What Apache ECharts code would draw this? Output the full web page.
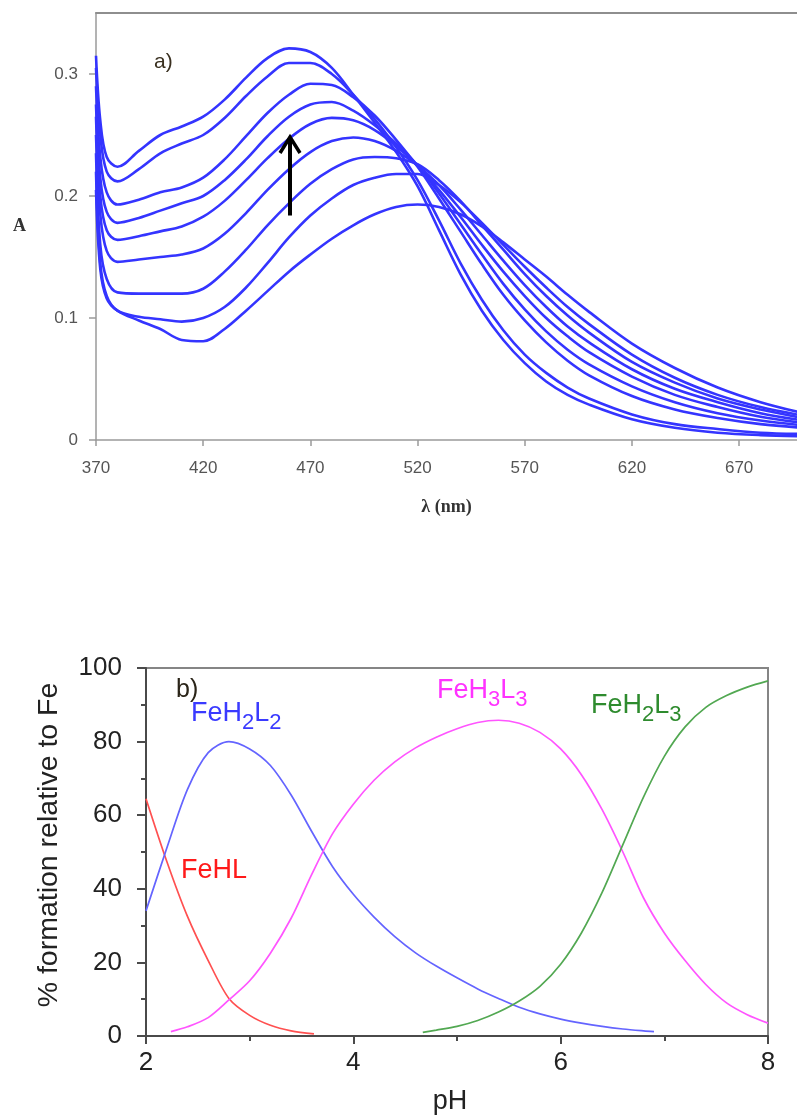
<!DOCTYPE html>
<html>
<head>
<meta charset="utf-8">
<script src="https://cdn.jsdelivr.net/npm/echarts@6/dist/echarts.min.js"></script>
<style>
html,body{margin:0;padding:0;background:#fff;}
#chart{width:797px;height:1117px;}
</style>
</head>
<body>
<div id="chart"></div>
<script>
// ---------- Panel a) : absorption spectra ----------
const wavelengths = [370, 372, 375, 380, 390, 400, 410, 420, 430, 440, 450, 460, 470, 480, 490, 500, 510, 520, 530, 540, 550, 560, 570, 580, 590, 600, 620, 640, 660, 680, 700];
const spectrum1 = [0.315, 0.262, 0.232, 0.224, 0.237, 0.250, 0.257, 0.265, 0.279, 0.297, 0.313, 0.321, 0.318, 0.305, 0.283, 0.260, 0.236, 0.208, 0.172, 0.136, 0.106, 0.082, 0.063, 0.048, 0.037, 0.029, 0.017, 0.010, 0.006, 0.004, 0.003];
const spectrum2 = [0.305, 0.250, 0.220, 0.212, 0.222, 0.235, 0.243, 0.250, 0.264, 0.282, 0.298, 0.309, 0.309, 0.300, 0.283, 0.263, 0.240, 0.213, 0.180, 0.145, 0.115, 0.090, 0.070, 0.055, 0.043, 0.034, 0.021, 0.013, 0.009, 0.006, 0.005];
const spectrum3 = [0.290, 0.232, 0.203, 0.193, 0.197, 0.203, 0.207, 0.215, 0.230, 0.249, 0.268, 0.283, 0.292, 0.291, 0.281, 0.266, 0.246, 0.224, 0.198, 0.171, 0.144, 0.119, 0.098, 0.080, 0.065, 0.053, 0.036, 0.025, 0.018, 0.013, 0.010];
const spectrum4 = [0.275, 0.215, 0.187, 0.178, 0.182, 0.188, 0.194, 0.200, 0.213, 0.230, 0.249, 0.265, 0.275, 0.277, 0.270, 0.258, 0.243, 0.225, 0.202, 0.177, 0.152, 0.128, 0.107, 0.089, 0.074, 0.062, 0.044, 0.031, 0.022, 0.016, 0.012];
const spectrum5 = [0.265, 0.200, 0.172, 0.164, 0.167, 0.171, 0.175, 0.183, 0.196, 0.213, 0.231, 0.247, 0.259, 0.264, 0.262, 0.254, 0.241, 0.225, 0.205, 0.183, 0.160, 0.138, 0.118, 0.100, 0.085, 0.072, 0.052, 0.037, 0.027, 0.019, 0.014];
const spectrum6 = [0.250, 0.185, 0.155, 0.146, 0.148, 0.150, 0.152, 0.157, 0.169, 0.186, 0.205, 0.222, 0.236, 0.245, 0.248, 0.245, 0.237, 0.225, 0.209, 0.189, 0.168, 0.147, 0.127, 0.109, 0.093, 0.080, 0.058, 0.042, 0.031, 0.022, 0.016];
const spectrum7 = [0.235, 0.160, 0.132, 0.121, 0.120, 0.120, 0.120, 0.124, 0.138, 0.156, 0.176, 0.194, 0.210, 0.222, 0.230, 0.232, 0.231, 0.226, 0.213, 0.196, 0.176, 0.156, 0.136, 0.118, 0.102, 0.088, 0.064, 0.047, 0.034, 0.025, 0.018];
const spectrum8 = [0.220, 0.145, 0.118, 0.106, 0.101, 0.099, 0.097, 0.100, 0.109, 0.125, 0.145, 0.166, 0.184, 0.198, 0.209, 0.215, 0.218, 0.218, 0.209, 0.195, 0.178, 0.160, 0.142, 0.125, 0.109, 0.095, 0.070, 0.051, 0.037, 0.027, 0.020];
const spectrum9 = [0.205, 0.140, 0.116, 0.106, 0.098, 0.091, 0.082, 0.081, 0.091, 0.106, 0.122, 0.138, 0.152, 0.165, 0.176, 0.185, 0.191, 0.193, 0.191, 0.185, 0.175, 0.162, 0.148, 0.134, 0.119, 0.105, 0.079, 0.059, 0.043, 0.031, 0.022];
const spectra = [spectrum1, spectrum2, spectrum3, spectrum4, spectrum5, spectrum6, spectrum7, spectrum8, spectrum9];
const lambdaStart = 370;          // first tick label of the wavelength axis
const lambdaEnd = 697;            // right edge of the visible plot
const arrowMark = [460.5, 0.184, 0.250]; // wavelength, A from, A to

// ---------- Panel b) : speciation ----------
const feHL_pH = [2.0, 2.2, 2.4, 2.6, 2.8, 3.0, 3.2, 3.4, 3.62];
const feHL = [64.5, 47.5, 32.5, 20.5, 10.2, 5.6, 2.9, 1.4, 0.6];
const feH2L2_pH = [2.0, 2.2, 2.4, 2.6, 2.8, 3.0, 3.2, 3.4, 3.6, 3.8, 4.0, 4.2, 4.4, 4.6, 4.8, 5.0, 5.2, 5.4, 5.6, 5.8, 6.0, 6.2, 6.4, 6.6, 6.8, 6.9];
const feH2L2 = [34, 51, 67, 77, 80, 78, 73.5, 65.5, 55.5, 46, 38.5, 32.3, 27, 22.6, 19, 15.8, 12.8, 10.2, 7.8, 6.0, 4.6, 3.5, 2.6, 1.9, 1.4, 1.2];
const feH3L3_pH = [2.24, 2.4, 2.6, 2.8, 3.0, 3.2, 3.4, 3.6, 3.8, 4.0, 4.2, 4.4, 4.6, 4.8, 5.0, 5.2, 5.4, 5.6, 5.8, 6.0, 6.2, 6.4, 6.6, 6.8, 7.0, 7.2, 7.4, 7.6, 7.8, 8.0];
const feH3L3 = [1.2, 2.5, 5, 9.8, 15, 22.5, 32, 44, 55, 63, 69.5, 74.5, 78.3, 81.2, 83.5, 85.2, 85.8, 85, 82.5, 78, 71, 61.5, 50, 37.5, 28, 20.5, 14, 9, 5.8, 3.5];
const feH2L3_pH = [4.67, 4.8, 5.0, 5.2, 5.4, 5.6, 5.8, 6.0, 6.2, 6.4, 6.6, 6.8, 7.0, 7.2, 7.4, 7.6, 7.8, 8.0];
const feH2L3 = [1, 1.6, 2.6, 4.2, 6.5, 9.5, 13.5, 19.5, 28, 39, 52, 65, 76, 84, 89.3, 92.5, 94.8, 96.5];

const zip = (xs, ys) => xs.map((x, i) => [x, ys[i]]);
const sansFont = 'Liberation Sans, Arial, sans-serif';

const chart = echarts.init(document.getElementById('chart'), null, {renderer: 'canvas'});

const spectraSeries = spectra.map((s, k) => ({
  type: 'line',
  name: 'spectrum ' + (k + 1),
  xAxisIndex: 0, yAxisIndex: 0,
  data: wavelengths.map((w, i) => [w - lambdaStart, s[i]]),
  showSymbol: false,
  smooth: 0.35,
  lineStyle: {color: '#3434ff', width: 2.6},
  z: 3
}));

const arrowSeries = {
  type: 'custom',
  xAxisIndex: 0, yAxisIndex: 0,
  data: [[arrowMark[0] - lambdaStart, arrowMark[1], arrowMark[2]]],
  z: 5,
  renderItem: function (params, api) {
    const p0 = api.coord([api.value(0), api.value(1)]);
    const p1 = api.coord([api.value(0), api.value(2)]);
    return {
      type: 'group',
      children: [
        {type: 'line', shape: {x1: p0[0], y1: p0[1], x2: p1[0], y2: p1[1] + 2}, style: {stroke: '#000', lineWidth: 4}},
        {type: 'polyline', shape: {points: [[p1[0] - 10, p1[1] + 18], [p1[0], p1[1] + 2], [p1[0] + 10, p1[1] + 18]]},
          style: {stroke: '#000', lineWidth: 3.5, fill: null}}
      ]
    };
  }
};

const specLine = (name, xs, ys, color) => ({
  type: 'line', name: name,
  xAxisIndex: 1, yAxisIndex: 1,
  data: zip(xs, ys),
  showSymbol: false, smooth: 0.3,
  lineStyle: {color: color, width: 1.7}
});

function subLabel(parts, x, y, color, size, subSize) {
  const txt = parts.map(p => (p[1] ? '{s|' : '{b|') + p[0] + '}').join('');
  return {
    type: 'text', left: x, top: y - 20, z: 10,
    style: {
      text: txt,
      rich: {
        b: {fontSize: size, fontFamily: sansFont, fill: color, lineHeight: 40, verticalAlign: 'middle'},
        s: {fontSize: subSize, fontFamily: sansFont, fill: color, lineHeight: 20, verticalAlign: 'bottom'}
      }
    }
  };
}

const option = {
  backgroundColor: '#ffffff',
  animation: false,
  grid: [
    {left: 96, top: 13, right: 0, height: 427, show: false},
    {left: 146, top: 668, width: 622, height: 368, show: true, borderColor: '#858585', borderWidth: 2, backgroundColor: 'transparent'}
  ],
  xAxis: [
    {
      type: 'value', gridIndex: 0,
      min: 0, max: lambdaEnd - lambdaStart, interval: 50,
      axisLine: {show: true, onZero: false, lineStyle: {color: '#9a9a9a', width: 1.5}},
      axisTick: {show: true, length: 6, lineStyle: {color: '#9a9a9a', width: 1.5}},
      axisLabel: {formatter: v => String(Math.round(v + lambdaStart)), color: '#555', fontSize: 17, fontFamily: sansFont, margin: 20, showMaxLabel: false},
      splitLine: {show: false},
      name: 'λ (nm)', nameLocation: 'middle', nameGap: 58,
      nameTextStyle: {fontFamily: 'Liberation Serif, serif', fontWeight: 'bold', fontSize: 18, color: '#333'}
    },
    {
      type: 'value', gridIndex: 1,
      min: 2, max: 8, interval: 2,
      axisLine: {show: true, onZero: false, lineStyle: {color: '#4a4a4a', width: 2}},
      axisTick: {show: true, length: 8, lineStyle: {color: '#4a4a4a', width: 2}},
      minorTick: {show: true, splitNumber: 2, length: 5, lineStyle: {color: '#4a4a4a', width: 2}},
      axisLabel: {color: '#222', fontSize: 26, fontFamily: sansFont, margin: 14},
      splitLine: {show: false},
      name: 'pH', nameLocation: 'middle', nameGap: 52,
      nameTextStyle: {fontFamily: sansFont, fontSize: 27, color: '#222', padding: [0, 14, 0, 0]}
    },
    {
      // top frame line of panel a)
      type: 'value', gridIndex: 0, position: 'top',
      min: 0, max: lambdaEnd - lambdaStart,
      axisLine: {show: true, onZero: false, lineStyle: {color: '#8e8e8e', width: 2}},
      axisTick: {show: false}, axisLabel: {show: false}, splitLine: {show: false}
    }
  ],
  yAxis: [
    {
      type: 'value', gridIndex: 0,
      min: 0, max: 0.35, interval: 0.1,
      axisLine: {show: true, onZero: false, lineStyle: {color: '#9a9a9a', width: 1.5}},
      axisTick: {show: true, length: 7, lineStyle: {color: '#9a9a9a', width: 1.5}},
      axisLabel: {formatter: v => (v === 0 ? '0' : v.toFixed(1)), color: '#555', fontSize: 17, fontFamily: sansFont, margin: 18, showMaxLabel: false},
      splitLine: {show: false},
      name: 'A', nameLocation: 'middle', nameRotate: 0, nameGap: 70,
      nameTextStyle: {fontFamily: 'Liberation Serif, serif', fontWeight: 'bold', fontSize: 18, color: '#333'}
    },
    {
      type: 'value', gridIndex: 1,
      min: 0, max: 100, interval: 20,
      axisLine: {show: true, onZero: false, lineStyle: {color: '#4a4a4a', width: 2}},
      axisTick: {show: true, length: 9, lineStyle: {color: '#4a4a4a', width: 2}},
      minorTick: {show: true, splitNumber: 2, length: 5, lineStyle: {color: '#4a4a4a', width: 2}},
      axisLabel: {color: '#222', fontSize: 26, fontFamily: sansFont, margin: 24},
      splitLine: {show: false},
      name: '% formation relative to Fe', nameLocation: 'middle', nameGap: 82,
      nameTextStyle: {fontFamily: sansFont, fontSize: 28.5, color: '#222', padding: [0, 0, 0, 14]}
    }
  ],
  graphic: [
    {type: 'text', left: 154, top: 52, z: 10, style: {text: 'a)', fontSize: 21, fontFamily: sansFont, fill: '#3a3020'}},
    {type: 'text', left: 176, top: 678, z: 10, style: {text: 'b)', fontSize: 25, fontFamily: sansFont, fill: '#2a2418'}},
    subLabel([['FeH', 0], ['2', 1], ['L', 0], ['2', 1]], 191, 720, '#3a3aff', 27, 22),
    subLabel([['FeHL', 0]], 181, 877, '#ff1a1a', 27, 22),
    subLabel([['FeH', 0], ['3', 1], ['L', 0], ['3', 1]], 437, 697, '#ff33ff', 27, 22),
    subLabel([['FeH', 0], ['2', 1], ['L', 0], ['3', 1]], 591, 712, '#2e8b2e', 27, 22)
  ],
  series: spectraSeries.concat([
    arrowSeries,
    specLine('FeHL', feHL_pH, feHL, '#ff5050'),
    specLine('FeH2L2', feH2L2_pH, feH2L2, '#6464ff'),
    specLine('FeH3L3', feH3L3_pH, feH3L3, '#ff55ff'),
    specLine('FeH2L3', feH2L3_pH, feH2L3, '#52a852')
  ])
};
chart.setOption(option);
</script>
</body>
</html>
